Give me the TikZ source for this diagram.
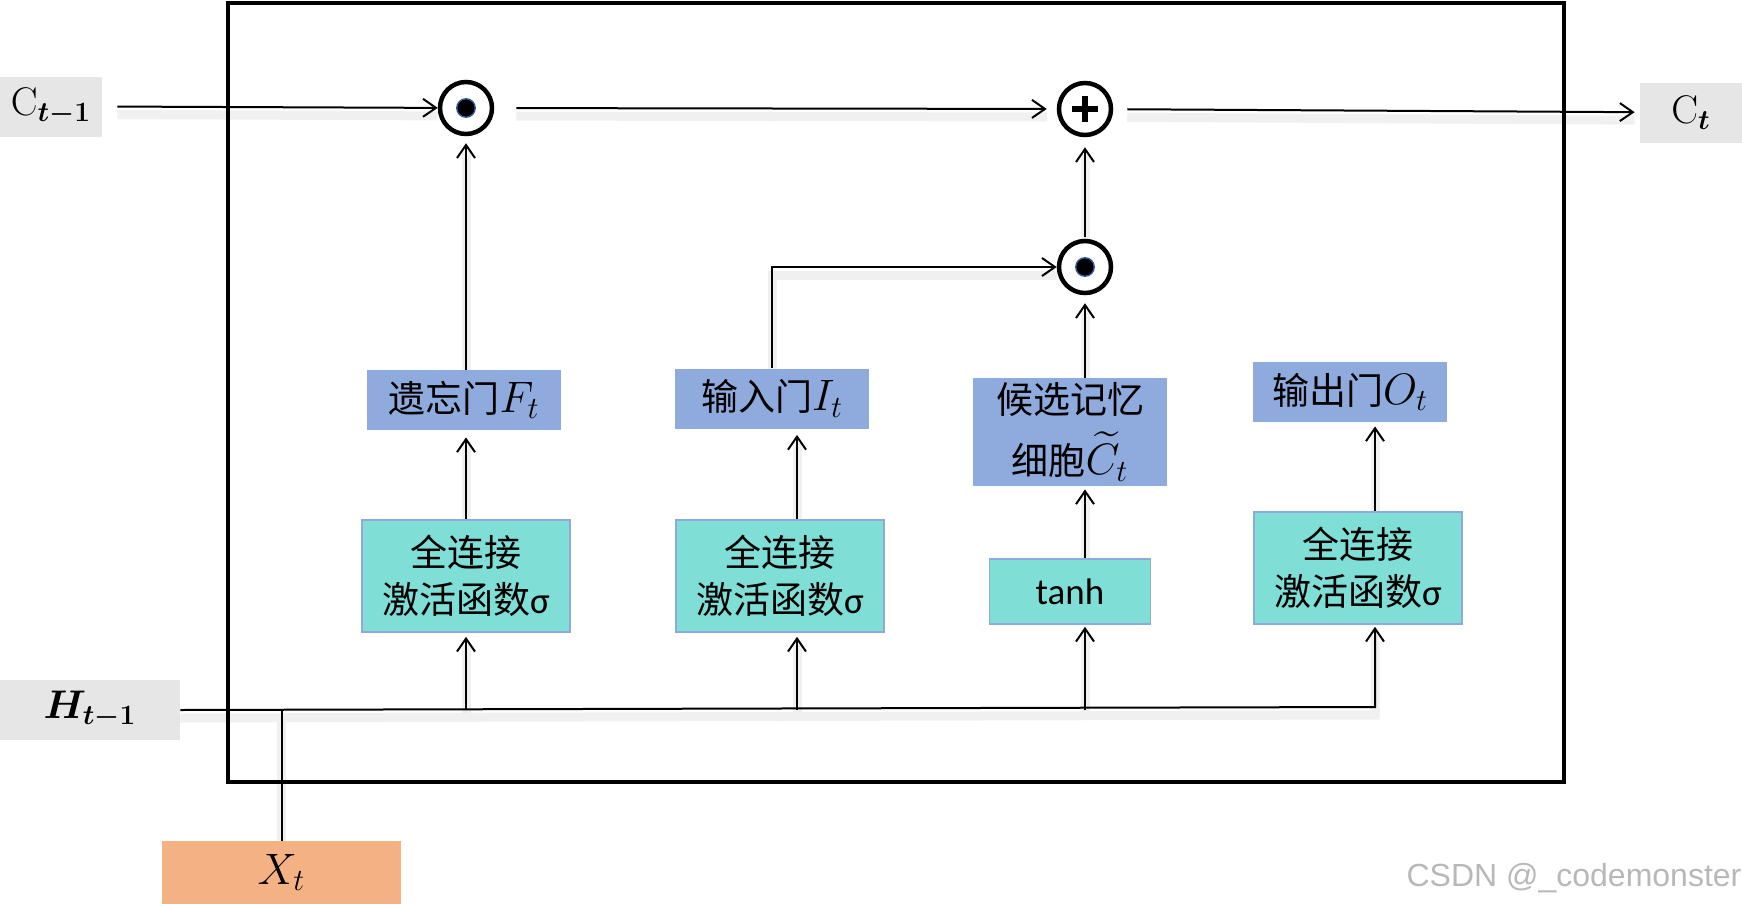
\RequirePackage{fix-cm}
\documentclass[tikz,border=0pt]{standalone}
\usepackage[no-math]{fontspec}
\usepackage{amsmath}
\usepackage{amssymb}
\usepackage{bm}
\usetikzlibrary{arrows.meta,backgrounds}
\setmainfont{Carlito}
\newfontfamily\cjk{Noto Sans CJK SC}
\newfontfamily\wmfont{Liberation Sans}
\definecolor{gateblue}{RGB}{143,170,220}
\definecolor{fcteal}{RGB}{127,223,215}
\definecolor{fcedge}{RGB}{142,169,219}
\definecolor{iogray}{RGB}{231,230,230}
\definecolor{xorange}{RGB}{244,177,131}
\definecolor{dotblue}{RGB}{47,85,151}
\newcommand{\mathbig}[1]{{\fontsize{22}{24}\selectfont$#1$}}
\tikzset{
  boxtext/.style={font=\fontsize{18.5}{23.5}\selectfont, align=center, inner sep=0pt},
  gatebox/.style={boxtext, fill=gateblue, minimum width=97pt, minimum height=30pt},
  fcbox/.style={boxtext, fill=fcteal, draw=fcedge, line width=0.8pt, minimum width=104pt, minimum height=56pt},
  iobox/.style={boxtext, fill=iogray, minimum height=30pt},
  opcircle/.style={circle, draw, line width=2.25pt, minimum size=26pt, inner sep=0pt, fill=white},
  shadowed/.style={preaction={draw=black!6, line width=4.5pt, arrows=-, transform canvas={yshift=-4pt}}},
  arr/.style={shadowed, line width=1pt, -{Straight Barb[length=6.5pt, width=9pt, line width=1pt]}},
  plain/.style={shadowed, line width=1pt}
}
\begin{document}
\begin{tikzpicture}[x=0.5pt,y=0.5pt,yscale=-1,xscale=1]
\useasboundingbox (0,0) rectangle (1742,906);

% cell frame
\draw[line width=2.25pt] (228,3) rectangle (1564,782);

% Text Node: inputs and outputs
\node[iobox, minimum width=51pt] (cprev) at (51,106.5) {\fontsize{20}{22}\selectfont$\mathrm{C}_{\bm{t-1}}$};
\node[iobox, minimum width=51pt] (cnext) at (1691,112.5) {\fontsize{20}{22}\selectfont$\mathrm{C}_{\bm{t}}$};
\node[iobox, minimum width=90pt] (hprev) at (90,710) {\fontsize{20}{22}\selectfont$\bm{H}_{\bm{t-1}}$};
\node[boxtext, fill=xorange, minimum width=119.5pt, minimum height=31.5pt] (xin) at (281.5,872.5) {\fontsize{22}{24}\selectfont$X_t$};

% operation circles
\node[opcircle] (odot1) at (466,108) {};
\node[opcircle] (plus) at (1085,109) {};
\node[opcircle] (odot2) at (1085,267) {};
\fill[black, draw=dotblue, line width=0.7pt] (odot1) circle (4.6pt);
\fill[black, draw=dotblue, line width=0.7pt] (odot2) circle (4.6pt);
\draw[line width=2.6pt] ([xshift=-6.5pt]plus.center) -- ([xshift=6.5pt]plus.center)
  ([yshift=-6.5pt]plus.center) -- ([yshift=6.5pt]plus.center);

% gates
\node[gatebox] (fbox) at (464,400) {{\cjk 遗忘门}\mathbig{F_t}};
\node[gatebox] (ibox) at (772,398.5) {{\cjk 输入门}\mathbig{I_t}};
\node[gatebox, minimum height=54pt] (cand) at (1070,432) {{\cjk 候选记忆}\\[7pt]{\cjk 细胞}\mathbig{\widetilde{C}_t}};
\node[gatebox] (obox) at (1350,392) {{\cjk 输出门}\mathbig{O_t}};

% dense layers
\node[fcbox] (fc1) at (466,576) {{\cjk 全连接}\\{\cjk 激活函数}σ};
\node[fcbox] (fc2) at (780,576) {{\cjk 全连接}\\{\cjk 激活函数}σ};
\node[fcbox, minimum width=80.5pt, minimum height=32.5pt] (tanh) at (1070,591.5) {tanh};
\node[fcbox] (fc3) at (1358,568) {{\cjk 全连接}\\{\cjk 激活函数}σ};

\coordinate (hend) at (1375,707);

\begin{scope}[on background layer]
% cell state line
\draw[arr, shorten <=7.5pt] (cprev.east) -- (odot1);
\draw[arr, shorten <=11pt, shorten >=5pt] (odot1) -- (plus);
\draw[arr, shorten <=7pt, shorten >=2.5pt] (plus) -- (cnext);

% forget column
\draw[arr, shorten >=3.5pt] (odot1 |- fbox.north) -- (odot1);
\draw[arr, shorten >=3.5pt] (odot1 |- fc1.north) -- (odot1 |- fbox.south);
\draw[arr, shorten >=2pt] (odot1 |- hprev) -- (odot1 |- fc1.south);

% input column
\draw[arr, shorten >=3pt] ([xshift=8.5pt]fc2.north) -- ([xshift=8.5pt]fc2.north |- ibox.south);
\draw[arr, shorten >=2pt] ([xshift=8.5pt]fc2.south |- hprev) -- ([xshift=8.5pt]fc2.south);
\draw[arr] (ibox.north) |- (odot2);

% candidate column
\draw[arr, shorten <=1pt, shorten >=5pt] (odot2) -- (plus);
\draw[arr, shorten >=4pt] (odot2 |- cand.north) -- (odot2);
\draw[arr, shorten >=1.5pt] (odot2 |- tanh.north) -- (odot2 |- cand.south);
\draw[arr, shorten >=1pt] (odot2 |- hprev) -- (odot2 |- tanh.south);

% output column
\draw[arr, shorten >=2pt] (hend |- fc3.north) -- (hend |- obox.south);
\draw[arr, shorten >=1pt] (hprev.east) -- (hend) -- (hend |- fc3.south);
\draw[plain] (xin.north) -- (xin.north |- hprev);
\end{scope}

% watermark
\node[font=\wmfont\fontsize{16}{16}\selectfont, text=black!28] (wm) at (1574,878) {CSDN @\_codemonster};

\end{tikzpicture}
\end{document}
